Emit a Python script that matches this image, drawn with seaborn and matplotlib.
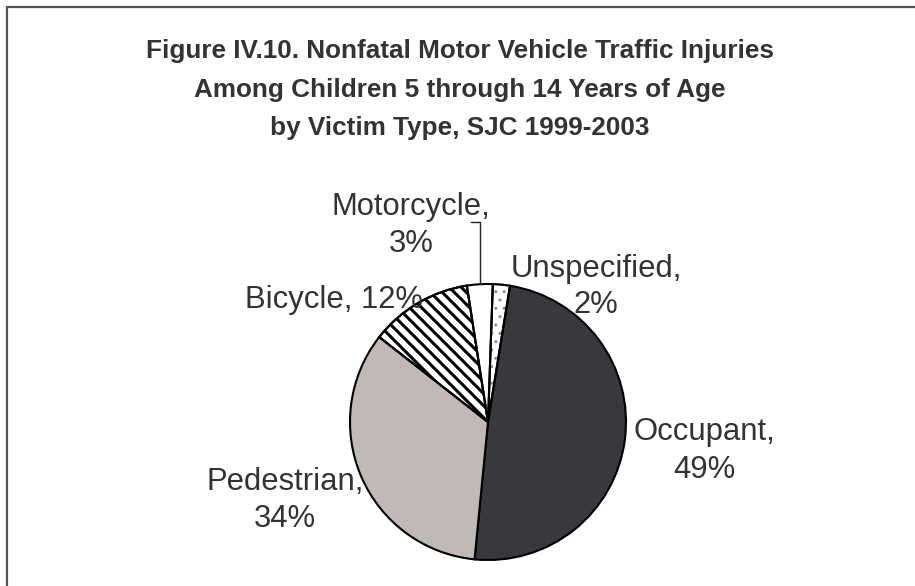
# Pie chart: nonfatal motor vehicle traffic injuries by victim type

import numpy as np
import matplotlib.pyplot as plt
import seaborn as sns
from matplotlib import font_manager
from matplotlib.patches import Wedge


# ------------------------------------------------------------
# Data
# ------------------------------------------------------------

victim_types = ["Unspecified", "Occupant", "Pedestrian", "Bicycle", "Motorcycle"]
injury_share = [2, 49, 34, 12, 3]

title_lines = [
    "Figure IV.10. Nonfatal Motor Vehicle Traffic Injuries",
    "Among Children 5 through 14 Years of Age",
    "by Victim Type, SJC 1999-2003",
]


# ------------------------------------------------------------
# Style
# ------------------------------------------------------------

sns.set_theme(style="white")
plt.rcParams["font.family"] = ["Liberation Sans", "DejaVu Sans"]

installed = {f.name for f in font_manager.fontManager.ttflist}
if "Liberation Sans Narrow" in installed:
    title_font = dict(family="Liberation Sans Narrow", size=22.5)
else:
    title_font = dict(family="Liberation Sans", size=18.8)

TEXT = "#333333"
slice_colors = ["white", "#39383d", "#c1b9b6", "white", "white"]

W, H = 915, 586
fig = plt.figure(figsize=(W / 100, H / 100), dpi=100)
ax = fig.add_axes([0, 0, 1, 1])


def flip(y):
    # pixel row (from top) -> axis y
    return H - y


def outline(wedge):
    # redraw a slice border above any fill pattern
    ax.add_patch(Wedge(wedge.center, wedge.r, wedge.theta1, wedge.theta2,
                       facecolor="none", edgecolor="black", linewidth=1.5,
                       zorder=3))


# ------------------------------------------------------------
# Pie
# ------------------------------------------------------------

wedges, _ = ax.pie(
    injury_share,
    colors=slice_colors,
    startangle=88,
    counterclock=False,
    center=(488, flip(422)),
    radius=138,
    frame=True,
    wedgeprops=dict(edgecolor="black", linewidth=1.5),
)

# Unspecified: grey dots
dotted = wedges[0]
dotted.set_hatch("..")
dotted.set_edgecolor("#8c8c8c")
if hasattr(dotted, "set_hatch_linewidth"):
    dotted.set_hatch_linewidth(1.0)
outline(dotted)

# Bicycle: dense diagonal stripes, clipped to the slice
bike = wedges[3]
cx, cy = bike.center
r = bike.r
for k in np.arange(-2 * r, 2 * r, 12.0):
    xs = np.array([cx + k - r, cx + k + r])
    ys = cy - (xs - (cx + k))
    stripe, = ax.plot(xs, ys, color="black", linewidth=2.2,
                      solid_capstyle="butt", zorder=2)
    stripe.set_clip_path(bike)
outline(bike)

ax.set_xlim(0, W)
ax.set_ylim(0, H)
ax.set_aspect("equal")
ax.axis("off")

# leader line for the Motorcycle slice
moto = wedges[4]
mid = np.deg2rad((moto.theta1 + moto.theta2) / 2)
tip_x = moto.center[0] + moto.r * np.cos(mid)
tip_y = moto.center[1] + moto.r * np.sin(mid)
ax.plot([tip_x, tip_x, tip_x - 9], [tip_y, flip(222), flip(222)],
        color="#222222", linewidth=1.0, solid_joinstyle="miter")


# ------------------------------------------------------------
# Labels
# ------------------------------------------------------------

label_style = dict(fontsize=22.3, color=TEXT, ha="center", va="baseline")

# (x centre, first baseline, second baseline) in pixel rows
label_spots = {
    "Unspecified": (596, 277, 313),
    "Occupant": (704, 440, 478),
    "Pedestrian": (285, 490, 527),
    "Motorcycle": (411, 215, 252),
}

for name, share in zip(victim_types, injury_share):
    if name == "Bicycle":
        ax.text(334, flip(308), f"{name}, {share}%", zorder=4, **label_style)
        continue
    x, y1, y2 = label_spots[name]
    ax.text(x, flip(y1), f"{name},", zorder=4, **label_style)
    ax.text(x, flip(y2), f"{share}%", zorder=4, **label_style)


# ------------------------------------------------------------
# Title and frame
# ------------------------------------------------------------

for line, baseline in zip(title_lines, [58, 97, 135]):
    ax.text(460, flip(baseline), line, fontweight="bold", color=TEXT,
            ha="center", va="baseline", **title_font)

ax.plot([7, 7, W], [0, flip(6.5), flip(6.5)], color="#555555",
        linewidth=1.6, solid_joinstyle="miter", clip_on=False)

fig.savefig("out.png", dpi=100)
